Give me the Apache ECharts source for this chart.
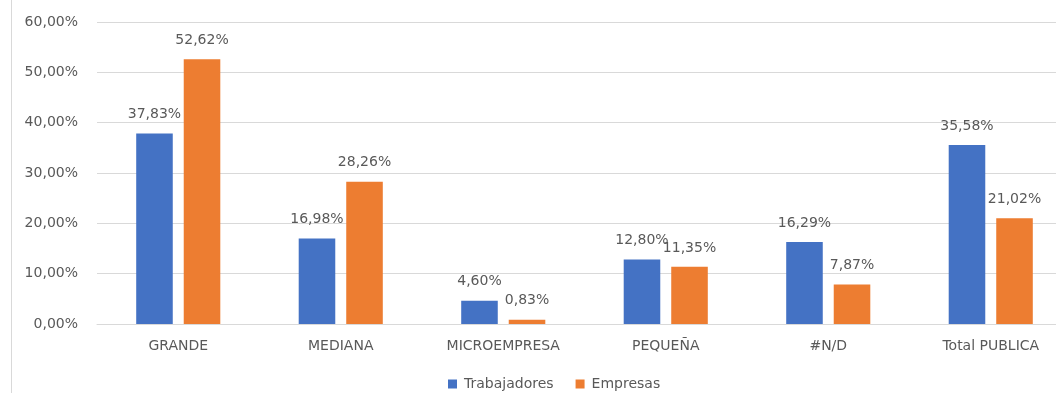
<!DOCTYPE html>
<html>
<head>
<meta charset="utf-8">
<script src="https://cdn.jsdelivr.net/npm/echarts@6/dist/echarts.min.js"></script>
<style>
  html, body { margin: 0; padding: 0; background: #fff; }
  #chart { width: 1056px; height: 393px; }
</style>
</head>
<body>
<div id="chart"></div>
<script>
const categories = ['GRANDE', 'MEDIANA', 'MICROEMPRESA', 'PEQUEÑA', '#N/D', 'Total PUBLICA'];
const trabajadores = [37.83, 16.98, 4.60, 12.80, 16.29, 35.58];
const empresas = [52.62, 28.26, 0.83, 11.35, 7.87, 21.02];
const seriesNames = ['Trabajadores', 'Empresas'];

const fmt = v => v.toFixed(2).replace('.', ',') + '%';
const FONT = 'DejaVu Sans';
const FS = 14;
const TEXT = '#595959';

const chart = echarts.init(document.getElementById('chart'), null, { renderer: 'canvas' });

const labelOpt = {
  show: true,
  position: 'top',
  distance: 12,
  color: TEXT,
  fontFamily: FONT,
  fontSize: FS,
  formatter: p => fmt(p.value)
};

chart.setOption({
  animation: false,
  backgroundColor: '#ffffff',
  textStyle: { fontFamily: FONT },
  graphic: [{
    type: 'line',
    shape: { x1: 11.5, y1: 0, x2: 11.5, y2: 393 },
    style: { stroke: '#d9d9d9', lineWidth: 1 }
  }],
  // the plot area runs past the right edge of the page
  grid: { left: 97, top: 22, width: 975, height: 302, containLabel: false, outerBoundsMode: 'none' },
  legend: {
    data: seriesNames,
    top: 372,
    left: 443,
    itemWidth: 9,
    itemHeight: 9,
    itemGap: 22,
    icon: 'rect',
    textStyle: { color: TEXT, fontFamily: FONT, fontSize: FS, padding: [0, 0, 0, 2] }
  },
  xAxis: {
    type: 'category',
    data: categories,
    axisLine: { lineStyle: { color: '#d9d9d9' } },
    axisTick: { show: false },
    axisLabel: { color: TEXT, fontFamily: FONT, fontSize: FS, margin: 15, interval: 0 }
  },
  yAxis: {
    type: 'value',
    min: 0,
    max: 60,
    interval: 10,
    axisLine: { show: false },
    axisTick: { show: false },
    splitLine: { lineStyle: { color: '#d9d9d9' } },
    axisLabel: { color: TEXT, fontFamily: FONT, fontSize: FS, margin: 19, formatter: v => fmt(v) }
  },
  series: [
    {
      name: seriesNames[0], type: 'bar', data: trabajadores,
      barWidth: '22.5%', barGap: '30%',
      itemStyle: { color: '#4472C4' },
      label: labelOpt
    },
    {
      name: seriesNames[1], type: 'bar', data: empresas,
      barWidth: '22.5%', barGap: '30%',
      itemStyle: { color: '#ED7D31' },
      label: labelOpt
    }
  ]
});
</script>
</body>
</html>
